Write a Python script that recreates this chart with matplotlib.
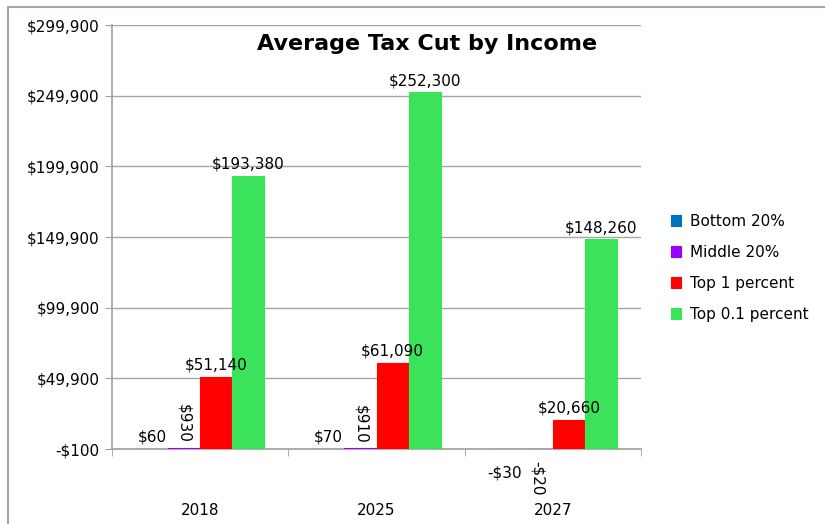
import numpy as np
import matplotlib.pyplot as plt
from matplotlib.patches import Rectangle

years = ["2018", "2025", "2027"]
series = ["Bottom 20%", "Middle 20%", "Top 1 percent", "Top 0.1 percent"]
bottom20 = [60, 70, -30]
middle20 = [930, 910, -20]
top1 = [51140, 61090, 20660]
top01 = [193380, 252300, 148260]
colors = ["#0070C0", "#9900FF", "#FF0000", "#3BE35A"]
yticks = [-100, 49900, 99900, 149900, 199900, 249900, 299900]

fs = 11

fig = plt.figure(figsize=(8.25, 5.24), dpi=100)
# outer chart border (only left and top visible in the picture)
fig.patches.append(Rectangle((8 / 825, -0.1), 1.0, 1 - 7 / 524 + 0.1,
                             transform=fig.transFigure, fill=False,
                             edgecolor="#A6A6A6", linewidth=1.5))
ax = fig.add_axes([112 / 825, 1 - 449 / 524, 529 / 825, 424 / 524])

x = np.arange(len(years))
w = 32 / 176
values = [bottom20, middle20, top1, top01]
for i, (name, vals) in enumerate(zip(series, values)):
    pos = x + (i - 1.5) * w
    ax.bar(pos, vals, width=w, color=colors[i], edgecolor=colors[i],
           linewidth=0.8, label=name, zorder=3)
    for px, v in zip(pos, vals):
        txt = f"${v:,}" if v >= 0 else f"-${-v:,}"
        if i == 1:
            if v >= 0:
                ax.annotate(txt, (px, 0), xytext=(0, 4), textcoords="offset points",
                            rotation=-90, ha="center", va="bottom", fontsize=fs, zorder=5)
            else:
                ax.annotate(txt, (px, 0), xytext=(0, -9), textcoords="offset points",
                            rotation=-90, ha="center", va="top", fontsize=fs, zorder=5)
        else:
            if v >= 0:
                ax.annotate(txt, (px, v), xytext=(0, 3), textcoords="offset points",
                            ha="center", va="bottom", fontsize=fs, zorder=5)
            else:
                ax.annotate(txt, (px, 0), xytext=(0, -12), textcoords="offset points",
                            ha="center", va="top", fontsize=fs, zorder=5)

ax.set_xlim(-0.5, 2.5)
ax.set_ylim(-100, 299900)
ax.set_yticks(yticks)
ax.set_yticklabels([f"${v:,}" if v >= 0 else f"-${-v:,}" for v in yticks], fontsize=fs)
ax.set_xticks(x)
ax.set_xticklabels(years, fontsize=fs)
ax.set_xticks([-0.5, 0.5, 1.5, 2.5], minor=True)
ax.tick_params(axis="x", which="major", length=0, pad=39)
ax.tick_params(axis="x", which="minor", length=5, color="#A0A0A0")
ax.tick_params(axis="y", length=5, color="#A0A0A0", pad=4)
ax.grid(axis="y", color="#A6A6A6", linewidth=1.0, zorder=0)
for s in ["top", "right"]:
    ax.spines[s].set_visible(False)
for s in ["left", "bottom"]:
    ax.spines[s].set_color("#A0A0A0")
    ax.spines[s].set_linewidth(1.2)

ax.text(0.595, 0.955, "Average Tax Cut by Income", transform=ax.transAxes,
        ha="center", va="center", fontsize=16, fontweight="bold")

ax.legend(loc="center left", bbox_to_anchor=(1.03, 0.427), frameon=False,
          fontsize=fs, handlelength=0.7, handleheight=0.7, labelspacing=1.05,
          handletextpad=0.6)

fig.savefig("out.png", dpi=100)
